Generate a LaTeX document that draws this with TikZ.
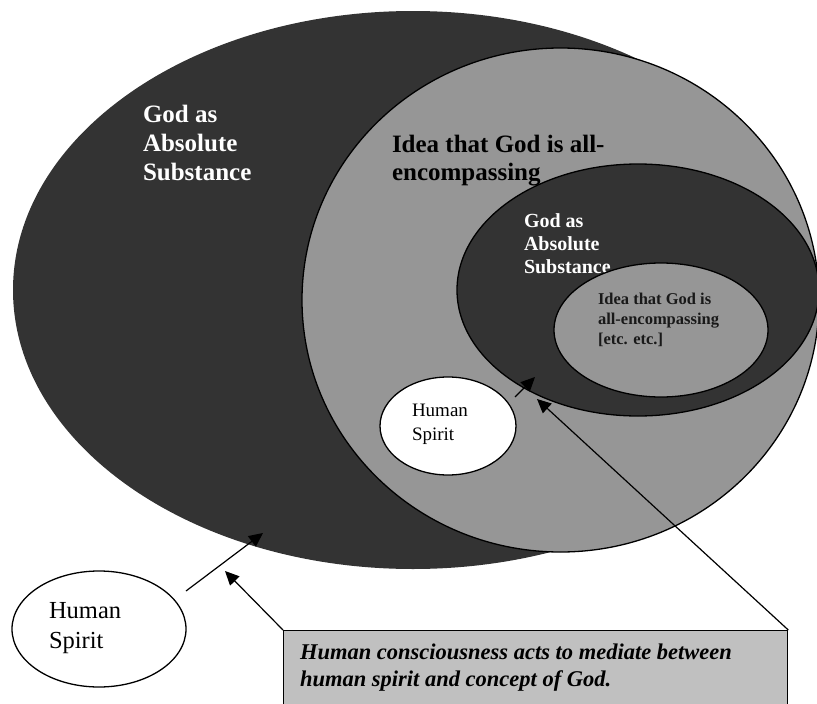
\documentclass[tikz,border=0pt]{standalone}
\usepackage{fontspec}
\setmainfont{Liberation Serif}
\usetikzlibrary{arrows.meta,shapes.geometric}
\definecolor{darkfill}{HTML}{333333}
\definecolor{midfill}{HTML}{969696}
\definecolor{boxfill}{HTML}{C0C0C0}
\begin{document}
\begin{tikzpicture}[x=1pt,y=-1pt,
  oval/.style={ellipse, inner sep=0pt, outer sep=0pt, line width=1.3pt},
  txt/.style={inner sep=0pt, outer sep=0pt, anchor=base west, align=left},
  arrowline/.style={line width=1.2pt, -{Triangle[length=14pt,width=13pt]}}]
\clip (0,0) rectangle (817,704);
% big dark ellipse
\node[oval, fill=darkfill, minimum width=800pt, minimum height=558pt] (godA) at (413,290) {};
% gray ellipse
\node[oval, draw=black, fill=midfill, minimum width=517pt, minimum height=504pt] (ideaA) at (560.5,300) {};
\node[txt, text=white, font=\fontsize{25}{29}\selectfont\bfseries] (godAtxt) at (143,180) {God as\\Absolute\\Substance};
\node[txt, text=black, font=\fontsize{25}{28}\selectfont\bfseries] (ideaAtxt) at (392,180) {Idea that God is all-\\encompassing};
% middle dark ellipse
\node[oval, draw=black, fill=darkfill, minimum width=362pt, minimum height=252pt] (godB) at (638,290) {};
\node[txt, text=white, font=\fontsize{20}{23}\selectfont\bfseries] (godBtxt) at (524,273) {God as\\Absolute\\Substance};
% inner gray ellipse
\node[oval, draw=black, fill=midfill, minimum width=214pt, minimum height=134pt] (ideaB) at (661,330) {};
\node[txt, text=black!90, font=\fontsize{16.5}{20}\selectfont\bfseries] (ideaBtxt) at (598,344) {Idea that God is\\all-encompassing\\{[etc. etc.]}};
% small human spirit
\node[oval, draw=black, fill=white, minimum width=136pt, minimum height=98pt] (spiritB) at (448,426) {};
\node[txt, font=\fontsize{19}{24}\selectfont] (spiritBtxt) at (412,440) {Human\\Spirit};
% big human spirit
\node[oval, draw=black, fill=white, minimum width=174pt, minimum height=116pt] (spiritA) at (99,629) {};
\node[txt, font=\fontsize{24.5}{30}\selectfont] (spiritAtxt) at (49,648) {Human\\Spirit};
% note box
\node[draw=black, fill=boxfill, line width=1.3pt, inner sep=0pt, anchor=north west, minimum width=504pt, minimum height=100pt] (note) at (283,630) {};
\node[txt, font=\fontsize{22.5}{27}\selectfont\bfseries\itshape] (notetxt) at (300,686) {Human consciousness acts to mediate between\\human spirit and concept of God.};
% arrows
\coordinate (a1s) at (186,591);
\coordinate (a1e) at (263,533);
\coordinate (a2e) at (225,571);
\coordinate (a3e) at (537,399);
\coordinate (a4s) at (515,397);
\coordinate (a4e) at (535,377);
\draw[arrowline] (a1s) -- (a1e);
\draw[arrowline] (note.north west) -- (a2e);
\draw[arrowline] (note.north east) -- (a3e);
\draw[arrowline] (a4s) -- (a4e);
\end{tikzpicture}
\end{document}
